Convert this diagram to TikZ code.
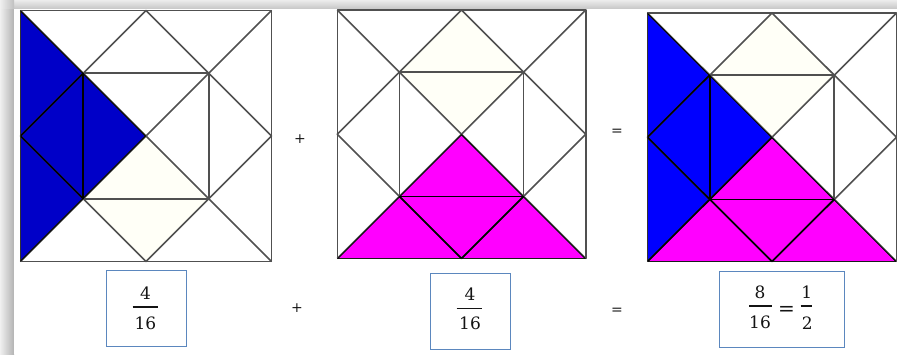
\documentclass[tikz,border=0pt]{standalone}
\usepackage{graphicx}
\usepackage{fontspec}
\newfontfamily\fracfont{DejaVu Serif}
\definecolor{bluedark}{HTML}{0000C8}
\definecolor{bluebright}{HTML}{0000FF}
\definecolor{pinkfill}{HTML}{FF00FF}
\definecolor{gridline}{HTML}{505050}
\definecolor{boxline}{HTML}{5B87BE}
\definecolor{paleyellow}{HTML}{FFFFF7}
\definecolor{textdark}{HTML}{141414}
\newcommand{\tangramlines}{%
  \draw (0,0) rectangle (1,1);
  \draw (0.5,0) -- (1,0.5) -- (0.5,1) -- (0,0.5) -- cycle;
  \draw (0,0) -- (1,1) (1,0) -- (0,1);
  \draw (0.25,0.25) rectangle (0.75,0.75);
}
\tikzset{
  grid lines/.style={draw=gridline, line width=1.6pt, line join=round},
  fracbox/.style={draw=boxline, line width=1pt, inner sep=0pt},
  opsign/.style={inner sep=0pt, text=textdark, font=\fracfont\fontsize{14}{16}\selectfont},
  digits/.style={inner sep=0pt, text=textdark, font=\fracfont\fontsize{17}{19}\selectfont},
  fracbar/.style={draw=textdark, line width=1.4pt}
}
\begin{document}
\begin{tikzpicture}[x=1pt,y=1pt]
\useasboundingbox (0,0) rectangle (897,354);
\fill[white] (0,0) rectangle (897,354);
% shadow bands
\shade[left color=gray!12, right color=gray!60] (0,0) rectangle (14,354);
\shade[top color=gray!15, bottom color=gray!45] (14,345) rectangle (897,354);
\shade[top color=gray!15, bottom color=gray!50, left color=gray!12] (0,345) rectangle (14,354);
\fill[white] (14,0) rectangle (897,345);

% ---- square 1
\begin{scope}[shift={(20.5,92.5)}, x=251pt, y=251pt]
  \fill[paleyellow] (0.25,0.25) -- (0.75,0.25) -- (0.5,0.5) -- cycle;
  \fill[paleyellow] (0.25,0.25) -- (0.75,0.25) -- (0.5,0) -- cycle;
  \fill[bluedark] (0,0) -- (0,1) -- (0.5,0.5) -- cycle;
  \begin{scope}[grid lines] \tangramlines \end{scope}
  \begin{scope}
    \clip (0,0) -- (0,1) -- (0.5,0.5) -- cycle;
    \begin{scope}[grid lines, draw=black] \tangramlines \end{scope}
  \end{scope}
\end{scope}

% ---- square 2
\begin{scope}[shift={(337.3,95.5)}, x=248.4pt, y=248.5pt]
  \fill[paleyellow] (0.25,0.75) -- (0.75,0.75) -- (0.5,0.5) -- cycle;
  \fill[paleyellow] (0.25,0.75) -- (0.75,0.75) -- (0.5,1) -- cycle;
  \fill[pinkfill] (0,0) -- (1,0) -- (0.5,0.5) -- cycle;
  \begin{scope}[grid lines] \tangramlines \end{scope}
  \begin{scope}
    \clip (0,0) -- (1,0) -- (0.5,0.5) -- cycle;
    \begin{scope}[grid lines, draw=black] \tangramlines \end{scope}
  \end{scope}
\end{scope}

% ---- square 3
\begin{scope}[shift={(647.5,92.5)}, x=249pt, y=248.5pt]
  \fill[paleyellow] (0.25,0.75) -- (0.75,0.75) -- (0.5,0.5) -- cycle;
  \fill[paleyellow] (0.25,0.75) -- (0.75,0.75) -- (0.5,1) -- cycle;
  \fill[bluebright] (0,0) -- (0,1) -- (0.5,0.5) -- cycle;
  \fill[pinkfill] (0,0) -- (1,0) -- (0.5,0.5) -- cycle;
  \begin{scope}[grid lines] \tangramlines \end{scope}
  \begin{scope}
    \clip (0,1) -- (0,0) -- (1,0) -- cycle;
    \begin{scope}[grid lines, draw=black] \tangramlines \end{scope}
  \end{scope}
\end{scope}

% operators between squares
\node[opsign] (plustop) at (300,215) {+};
\node[opsign] (eqtop) at (617,222) {=};

% fraction box 1
\node[fracbox, minimum width=80pt, minimum height=75.7pt] (box1) at (146,45.2) {};
\node[digits] (num1) at (145.5,60.8) {4};
\coordinate (b1l) at (132.7,47);
\coordinate (b1r) at (158.3,47);
\draw[fracbar] (b1l) -- (b1r);
\node[digits] (den1) at (145.5,30.3) {16};

\node[opsign] (plusbot) at (297,46) {+};

% fraction box 2
\node[fracbox, minimum width=80pt, minimum height=76.3pt] (box2) at (470.7,42.8) {};
\node[digits] (num2) at (470,59.8) {4};
\coordinate (b2l) at (456.7,45.3);
\coordinate (b2r) at (482.3,45.3);
\draw[fracbar] (b2l) -- (b2r);
\node[digits] (den2) at (470,30.3) {16};

\node[opsign] (eqbot) at (617,43) {=};

% fraction box 3
\node[fracbox, minimum width=125pt, minimum height=76.4pt] (box3) at (781.8,44.5) {};
\node[digits] (num3) at (760,62) {8};
\coordinate (b3l) at (749.3,48);
\coordinate (b3r) at (771.7,48);
\draw[fracbar] (b3l) -- (b3r);
\node[digits] (den3) at (760,32) {16};
\node[digits, font=\fracfont\fontsize{20}{22}\selectfont] (eq3) at (786.5,43.5) {=};
\node[digits] (num4) at (806.7,61.5) {1};
\coordinate (b4l) at (800.7,48);
\coordinate (b4r) at (811.7,48);
\draw[fracbar] (b4l) -- (b4r);
\node[digits] (den4) at (807.3,31.3) {2};
\end{tikzpicture}
\end{document}
